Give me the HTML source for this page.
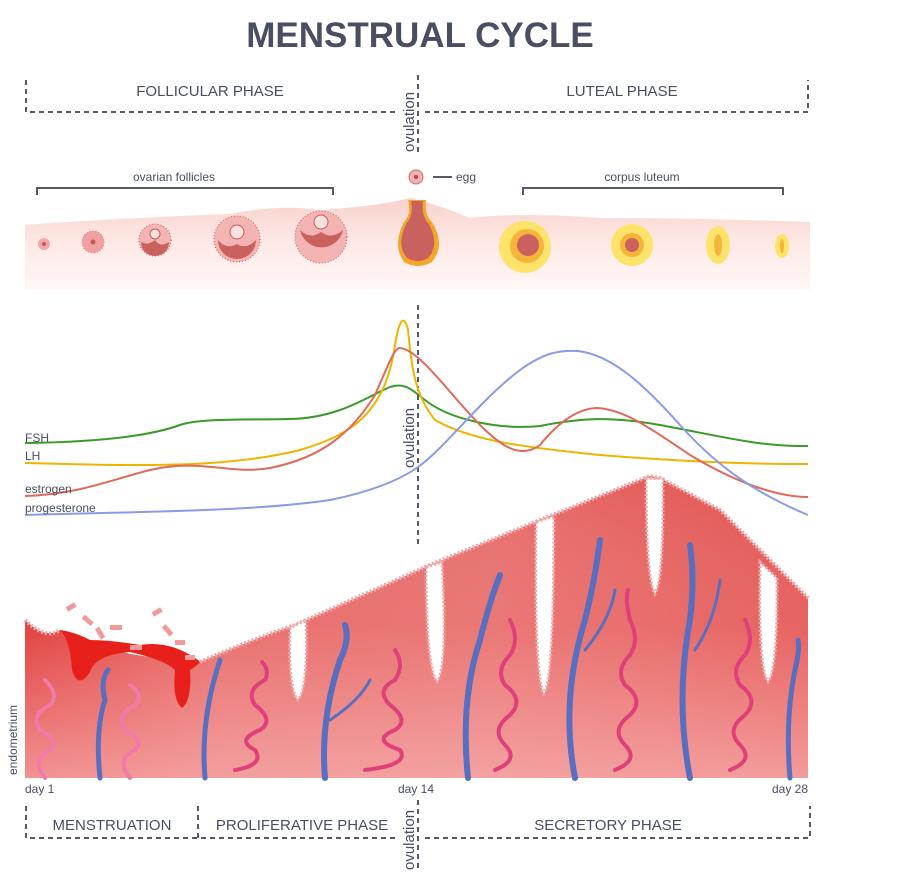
<!DOCTYPE html>
<html><head><meta charset="utf-8"><style>
html,body{margin:0;padding:0;background:#fff;}
svg{display:block;font-family:"Liberation Sans",Arial,sans-serif;}
</style></head><body>
<svg width="900" height="890" viewBox="0 0 900 890" xmlns="http://www.w3.org/2000/svg">
<defs>
<linearGradient id="ov" x1="0" y1="0" x2="0" y2="1">
<stop offset="0" stop-color="#f9d2cc"/><stop offset="0.5" stop-color="#fde9e6"/><stop offset="1" stop-color="#fff8f7"/>
</linearGradient>
<linearGradient id="endo" x1="0" y1="0" x2="1" y2="0">
<stop offset="0" stop-color="#dc2a28"/><stop offset="0.25" stop-color="#e4605e"/><stop offset="0.6" stop-color="#e66a68"/><stop offset="1" stop-color="#e2514e"/>
</linearGradient>
<linearGradient id="endov" x1="0" y1="0" x2="0" y2="1">
<stop offset="0" stop-color="#fff" stop-opacity="0"/><stop offset="0.5" stop-color="#f8b0b0" stop-opacity="0.2"/><stop offset="1" stop-color="#f8b4b4" stop-opacity="0.75"/>
</linearGradient>
</defs>

<text x="420" y="47" text-anchor="middle" font-size="35" font-weight="bold" fill="#4a4e63">MENSTRUAL CYCLE</text>

<g stroke="#555866" stroke-width="2" stroke-dasharray="5,4" fill="none">
<path d="M26 80 V112 H398"/>
<path d="M425 112 H808 V80"/>
<path d="M418 75 V152"/>
</g>
<text x="210" y="96" text-anchor="middle" font-size="15" fill="#4a4e63">FOLLICULAR PHASE</text>
<text x="622" y="96" text-anchor="middle" font-size="15" fill="#4a4e63">LUTEAL PHASE</text>
<text transform="translate(414,152) rotate(-90)" font-size="15" fill="#4a4e63">ovulation</text>

<g stroke="#555866" stroke-width="2" fill="none">
<path d="M37 195 V188 H333 V195"/>
<path d="M523 195 V188 H783 V195"/>
<path d="M433 177 H452"/>
</g>
<text x="174" y="181" text-anchor="middle" font-size="12" fill="#4a4e63">ovarian follicles</text>
<text x="642" y="181" text-anchor="middle" font-size="12" fill="#4a4e63">corpus luteum</text>
<text x="456" y="181" font-size="12" fill="#4a4e63">egg</text>

<path d="M25 225 Q120 218 230 214 Q280 204 320 210 Q380 206 410 198 Q440 205 470 218 Q520 212 600 218 Q700 218 810 222 V290 H25 Z" fill="url(#ov)"/>
<g>
<circle cx="44" cy="244" r="6" fill="#f2a8a8"/><circle cx="44" cy="244" r="2" fill="#c85858"/>
<circle cx="93" cy="242" r="11" fill="#f0a0a0" stroke="#e07a7a" stroke-dasharray="1,2"/><circle cx="93" cy="242" r="2.5" fill="#c85858"/>
<circle cx="155" cy="240" r="16" fill="#f4b4b4" stroke="#c85a5a" stroke-dasharray="1,2"/>
<path d="M141 242 A14 14 0 0 0 169 242 Q160 248 155 240 Q148 246 141 242Z" fill="#c9625e"/>
<circle cx="155" cy="234" r="5" fill="#fbe0e0" stroke="#c85a5a"/>
<circle cx="237" cy="239" r="23" fill="#f4b4b4" stroke="#c85a5a" stroke-dasharray="1,2"/>
<path d="M218 240 A19 19 0 0 0 256 240 Q246 250 237 244 Q226 250 218 240Z" fill="#c9625e"/>
<circle cx="237" cy="232" r="7" fill="#fbe0e0" stroke="#c85a5a"/>
<circle cx="321" cy="237" r="26" fill="#f4b4b4" stroke="#c85a5a" stroke-dasharray="1,2"/>
<path d="M300 230 Q310 240 321 232 Q332 240 343 230 A22 22 0 0 1 300 230Z" fill="#c9625e"/>
<circle cx="321" cy="222" r="7" fill="#fbe0e0" stroke="#c85a5a"/>
<circle cx="416" cy="177" r="7" fill="#f2b0b0" stroke="#d06a6a"/><circle cx="416" cy="177" r="2" fill="#b04848"/>
<path d="M408 200 L426 200 Q424 215 432 222 Q446 245 432 262 Q418 270 404 262 Q392 245 404 222 Q412 214 408 200Z" fill="#f2a62a"/>
<path d="M411 201 L423 201 Q421 216 429 224 Q440 245 428 258 Q418 264 407 258 Q396 245 406 224 Q414 215 411 201Z" fill="#c9625e"/>
<circle cx="525" cy="247" r="26" fill="#fde36a"/><circle cx="527" cy="246" r="17" fill="#f6b43a"/><circle cx="528" cy="245" r="11" fill="#c9625e"/>
<circle cx="632" cy="245" r="21" fill="#fde36a"/><circle cx="632" cy="245" r="12" fill="#f6b43a"/><circle cx="632" cy="245" r="7" fill="#c9625e"/>
<ellipse cx="718" cy="245" rx="12" ry="19" fill="#fde36a"/><ellipse cx="718" cy="245" rx="4" ry="11" fill="#f6b43a"/>
<ellipse cx="782" cy="246" rx="7" ry="12" fill="#fde36a"/><ellipse cx="782" cy="246" rx="2" ry="7" fill="#f6b43a"/>
</g>

<path d="M418 305 V545" stroke="#555866" stroke-width="2" stroke-dasharray="5,4" fill="none"/>
<text transform="translate(414,468) rotate(-90)" font-size="15" fill="#4a4e63">ovulation</text>
<g fill="none" stroke-width="2">
<path d="M25 443 C100 442 150 436 180 425 C200 418 250 420 290 419 C340 418 370 395 390 387 C405 382 412 390 425 400 C450 420 500 430 540 426 C580 418 610 416 660 425 C720 436 760 447 808 446" stroke="#3a9a2a"/>
<path d="M25 463 C120 465 220 470 300 450 C350 435 385 415 395 345 C399 320 404 313 408 330 C412 370 415 395 435 420 C470 440 520 447 600 455 C700 463 760 464 808 464" stroke="#f0b400"/>
<path d="M25 496 C80 494 110 480 150 470 C200 458 230 475 270 468 C320 458 350 435 375 395 C388 365 395 347 400 348 C420 350 450 395 480 425 C500 445 520 460 540 445 C560 420 580 408 598 408 C625 410 650 428 690 455 C740 485 780 497 808 497" stroke="#e06a5a"/>
<path d="M25 515 C120 512 250 512 330 500 C370 492 400 480 418 467 C445 448 480 400 520 370 C545 352 560 350 578 351 C610 355 640 380 680 425 C720 470 760 495 808 515" stroke="#8a9be8"/>
</g>
<g font-size="12" fill="#4a4e63">
<text x="25" y="442">FSH</text><text x="25" y="460">LH</text>
<text x="25" y="493">estrogen</text><text x="25" y="512">progesterone</text>
</g>

<path id="eshape" d="M25 620 Q45 640 60 630 L75 640 L90 645 Q150 660 200 662 Q250 640 295 625 L430 565 L540 520 L650 476 L660 478 L720 510 Q770 560 808 598 V778 H25 Z" fill="url(#endo)"/>
<path d="M25 620 Q45 640 60 630 L75 640 L90 645 Q150 660 200 662 Q250 640 295 625 L430 565 L540 520 L650 476 L660 478 L720 510 Q770 560 808 598 V778 H25 Z" fill="url(#endov)"/>
<path d="M25 620 Q45 640 60 630 M200 662 Q250 640 295 625 L430 565 L540 520 L650 476 L660 478 L720 510 Q770 560 808 598" fill="none" stroke="#f5a5a5" stroke-width="4" stroke-dasharray="2,2"/>
<g fill="#fff" stroke="#f5a5a5" stroke-width="3" stroke-dasharray="2,2">
<path d="M290 628 Q288 690 298 700 Q308 690 306 620Z"/>
<path d="M426 567 Q426 668 437 682 Q448 668 442 562Z"/>
<path d="M536 522 Q534 680 544 694 Q554 680 554 516Z"/>
<path d="M646 478 Q646 580 655 594 Q664 580 663 479Z"/>
<path d="M760 562 Q758 670 768 682 Q778 670 777 578Z"/>
</g>
<path d="M60 630 Q70 640 72 670 Q78 690 90 672 Q95 655 130 652 Q165 660 175 670 Q172 700 182 708 Q192 700 190 670 Q198 665 200 662 L198 660 Q170 640 140 645 Q110 640 90 640 Q75 632 60 630Z" fill="#e8201c"/>
<g fill="#f09a9a">
<rect x="66" y="605" width="10" height="5" transform="rotate(-30 70 607)"/>
<rect x="82" y="618" width="12" height="5" transform="rotate(40 88 620)"/>
<rect x="95" y="630" width="12" height="5" transform="rotate(60 100 632)"/>
<rect x="110" y="625" width="12" height="5"/>
<rect x="130" y="645" width="12" height="5"/>
<rect x="152" y="610" width="10" height="5" transform="rotate(-30 156 612)"/>
<rect x="162" y="628" width="12" height="5" transform="rotate(50 168 630)"/>
<rect x="175" y="640" width="10" height="5"/>
<rect x="185" y="655" width="10" height="5"/>
</g>
<g fill="none" stroke="#5a6ec0" stroke-linecap="round">
<path d="M100 778 Q95 730 105 700 Q100 680 108 670" stroke-width="5"/>
<path d="M205 778 Q200 720 220 660" stroke-width="5"/>
<path d="M325 778 Q320 720 340 660 Q350 640 345 625" stroke-width="6"/>
<path d="M330 720 Q360 700 370 680" stroke-width="3"/>
<path d="M468 778 Q460 700 480 640 Q490 600 500 575" stroke-width="6"/>
<path d="M575 778 Q560 700 585 620 Q595 580 600 540" stroke-width="6"/>
<path d="M585 650 Q610 620 615 590" stroke-width="3"/>
<path d="M690 778 Q675 700 690 620 Q695 580 690 545" stroke-width="6"/>
<path d="M695 650 Q715 620 720 580" stroke-width="3"/>
<path d="M790 778 Q785 720 795 670 Q800 650 798 640" stroke-width="5"/>
</g>
<g fill="none" stroke="#e0407a" stroke-width="4" stroke-linecap="round">
<path d="M45 778 Q30 760 50 750 Q60 740 40 730 Q30 715 50 705 Q60 695 45 680" stroke="#f27aa8"/>
<path d="M130 778 Q115 760 135 750 Q145 740 125 730 Q115 715 135 705 Q145 695 130 685" stroke="#f27aa8"/>
<path d="M235 770 Q265 765 255 750 Q235 740 260 730 Q275 720 255 705 Q245 690 265 680 Q270 670 262 662"/>
<path d="M365 770 Q410 765 400 750 Q370 740 395 730 Q410 720 390 705 Q375 690 395 680 Q405 665 395 650"/>
<path d="M495 770 Q520 760 505 745 Q490 730 510 715 Q525 700 505 685 Q495 670 510 655 Q520 640 510 620"/>
<path d="M615 770 Q640 760 625 745 Q610 730 630 715 Q645 700 625 685 Q615 670 630 655 Q640 640 630 620 Q625 600 628 590"/>
<path d="M730 770 Q755 760 740 745 Q725 730 745 715 Q760 700 740 685 Q730 670 745 655 Q755 640 745 620"/>
</g>
<text transform="translate(17,775) rotate(-90)" font-size="12" fill="#4a4e63">endometrium</text>

<g font-size="12" fill="#4a4e63">
<text x="25" y="793">day 1</text><text x="398" y="793">day 14</text><text x="772" y="793">day 28</text>
</g>
<g stroke="#555866" stroke-width="2" stroke-dasharray="5,4" fill="none">
<path d="M26 806 V838 H398"/>
<path d="M198 806 V838"/>
<path d="M425 838 H810 V806"/>
<path d="M418 800 V872"/>
</g>
<g font-size="15" fill="#4a4e63" text-anchor="middle">
<text x="112" y="830">MENSTRUATION</text>
<text x="302" y="830">PROLIFERATIVE PHASE</text>
<text x="608" y="830">SECRETORY PHASE</text>
</g>
<text transform="translate(414,870) rotate(-90)" font-size="15" fill="#4a4e63">ovulation</text>
</svg>
</body></html>
